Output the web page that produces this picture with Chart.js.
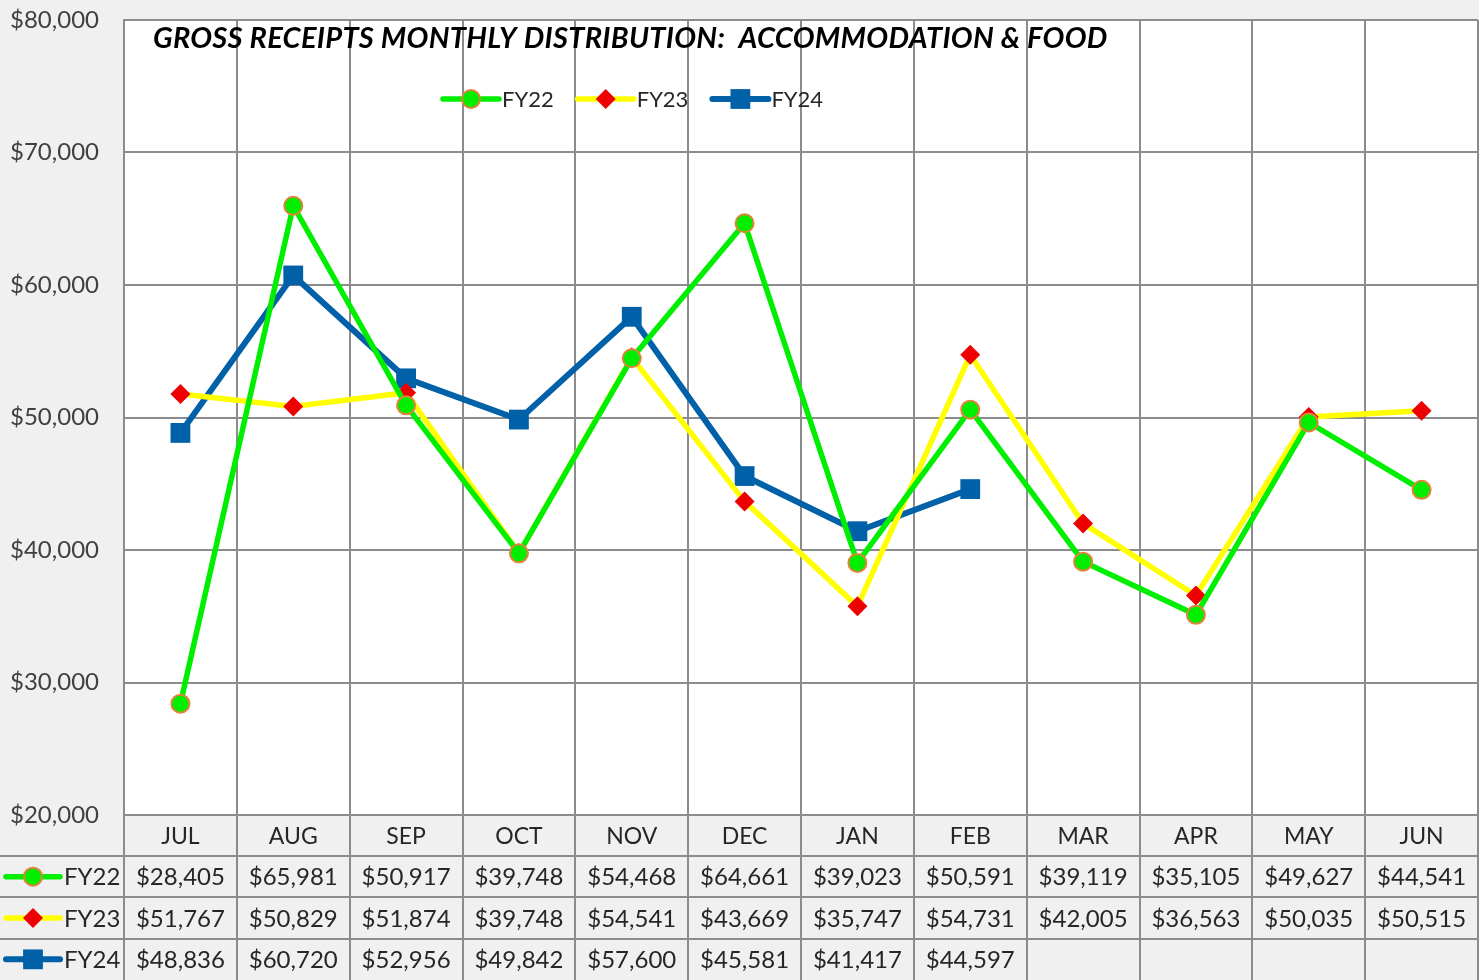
<!DOCTYPE html>
<html>
<head>
<meta charset="utf-8">
<script src="https://cdn.jsdelivr.net/npm/chart.js@4/dist/chart.umd.min.js"></script>
<style>
  body { margin: 0; background: #f0f0f0; }
  canvas { display: block; }
</style>
</head>
<body>
<canvas id="grChart" width="1479" height="980"></canvas>
<script>
const months = ['JUL', 'AUG', 'SEP', 'OCT', 'NOV', 'DEC', 'JAN', 'FEB', 'MAR', 'APR', 'MAY', 'JUN'];
const fy22 = [28405, 65981, 50917, 39748, 54468, 64661, 39023, 50591, 39119, 35105, 49627, 44541];
const fy23 = [51767, 50829, 51874, 39748, 54541, 43669, 35747, 54731, 42005, 36563, 50035, 50515];
const fy24 = [48836, 60720, 52956, 49842, 57600, 45581, 41417, 44597, null, null, null, null];
const seriesNames = ['FY22', 'FY23', 'FY24'];
const chartTitle = 'GROSS RECEIPTS MONTHLY DISTRIBUTION:  ACCOMMODATION & FOOD';

const gridColor = '#8c8c8c';
const textColor = '#262626';
const font = 'Lato';

function money(v) {
  return '$' + Number(v).toLocaleString('en-US');
}

// draw a marker the same way for the legend and table keys
function drawMarker(ctx, ds, x, y) {
  const r = ds.pointRadius;
  ctx.save();
  ctx.fillStyle = ds.pointBackgroundColor;
  ctx.strokeStyle = ds.pointBorderColor;
  ctx.lineWidth = ds.pointBorderWidth;
  ctx.beginPath();
  if (ds.pointStyle === 'circle') {
    ctx.arc(x, y, r, 0, Math.PI * 2);
  } else if (ds.pointStyle === 'rectRot') {
    ctx.moveTo(x, y - r); ctx.lineTo(x + r, y); ctx.lineTo(x, y + r); ctx.lineTo(x - r, y);
    ctx.closePath();
  } else {
    const s = Math.SQRT1_2 * r;
    ctx.rect(x - s, y - s, 2 * s, 2 * s);
  }
  ctx.fill();
  if (ds.pointBorderWidth) ctx.stroke();
  ctx.restore();
}

function drawKey(ctx, ds, x, y, len) {
  ctx.save();
  ctx.strokeStyle = ds.borderColor;
  ctx.lineWidth = ds.borderWidth;
  ctx.lineCap = 'round';
  ctx.beginPath();
  ctx.moveTo(x, y);
  ctx.lineTo(x + len, y);
  ctx.stroke();
  ctx.restore();
  drawMarker(ctx, ds, x + len / 2, y);
}

const tablePlugin = {
  id: 'tablePlugin',
  beforeDraw(chart) {
    const {ctx, chartArea: a} = chart;
    ctx.save();
    ctx.fillStyle = '#ffffff';
    ctx.fillRect(a.left, a.top, a.right - a.left, a.bottom - a.top);
    ctx.restore();
  },
  afterDraw(chart) {
    const {ctx, chartArea: a} = chart;
    const x = chart.scales.x;
    const sets = chart.data.datasets;
    const colW = x.width / months.length;
    const rowTop = x.bottom;
    const rowH = (chart.height - rowTop) / sets.length;

    ctx.save();
    // table grid
    ctx.strokeStyle = gridColor;
    ctx.lineWidth = 2;
    ctx.beginPath();
    for (let i = 0; i <= months.length; i++) {
      const px = Math.round(x.left + i * colW);
      ctx.moveTo(px, a.bottom);
      ctx.lineTo(px, chart.height);
    }
    for (let r = 0; r < sets.length; r++) {
      const py = Math.round(rowTop + r * rowH);
      ctx.moveTo(0, py);
      ctx.lineTo(x.right, py);
    }
    ctx.stroke();

    // table rows
    ctx.font = '24px ' + font;
    ctx.fillStyle = textColor;
    ctx.textBaseline = 'middle';
    sets.forEach((ds, r) => {
      const cy = rowTop + r * rowH + rowH / 2;
      drawKey(ctx, ds, 6, cy, 54);
      ctx.fillStyle = textColor;
      ctx.textAlign = 'left';
      ctx.fillText(ds.label, 64, cy + 1);
      ctx.textAlign = 'center';
      ds.data.forEach((v, i) => {
        if (v === null) return;
        ctx.fillText(money(v), x.getPixelForValue(i), cy + 1);
      });
    });

    // title
    ctx.font = 'italic bold 29px ' + font;
    ctx.letterSpacing = '0.3px';
    ctx.fillStyle = '#000000';
    ctx.textAlign = 'left';
    ctx.fillText(chartTitle, 153, 39);
    ctx.letterSpacing = '0px';

    // legend
    ctx.font = '22px ' + font;
    let lx = 443;
    const ly = 99;
    sets.forEach(ds => {
      drawKey(ctx, ds, lx, ly, 56);
      ctx.fillStyle = textColor;
      ctx.textAlign = 'left';
      ctx.fillText(ds.label, lx + 59, ly + 1);
      lx += 59 + ctx.measureText(ds.label).width + 24;
    });
    ctx.restore();
  }
};

const ctx = document.getElementById('grChart').getContext('2d');
const grChart = new Chart(ctx, {
  type: 'line',
  data: {
    labels: months,
    datasets: [
      {
        label: seriesNames[0],
        data: fy22,
        borderColor: '#00ee00',
        borderWidth: 5.5,
        pointStyle: 'circle',
        pointRadius: 9,
        pointBackgroundColor: '#00ee00',
        pointBorderColor: '#e0843c',
        pointBorderWidth: 2
      },
      {
        label: seriesNames[1],
        data: fy23,
        borderColor: '#ffff00',
        borderWidth: 5.5,
        pointStyle: 'rectRot',
        pointRadius: 10,
        pointBackgroundColor: '#ee0000',
        pointBorderColor: '#ee0000',
        pointBorderWidth: 0
      },
      {
        label: seriesNames[2],
        data: fy24,
        borderColor: '#0060a8',
        borderWidth: 6,
        pointStyle: 'rect',
        pointRadius: 14,
        pointBackgroundColor: '#0060a8',
        pointBorderColor: '#0060a8',
        pointBorderWidth: 0
      }
    ]
  },
  options: {
    responsive: false,
    animation: false,
    layout: {
      autoPadding: false,
      padding: { top: 20, left: 10, right: 1, bottom: 124 }
    },
    scales: {
      x: {
        offset: true,
        grid: {
          offset: true,
          color: gridColor,
          lineWidth: 2,
          drawTicks: false
        },
        border: { display: true, color: gridColor, width: 2 },
        ticks: {
          color: textColor,
          font: { family: font, size: 23 },
          padding: 8,
          maxRotation: 0
        },
        afterFit(scale) { scale.height = 41; }
      },
      y: {
        min: 20000,
        max: 80000,
        grid: {
          color: gridColor,
          lineWidth: 2,
          drawTicks: false
        },
        border: { display: true, color: gridColor, width: 2 },
        ticks: {
          stepSize: 10000,
          crossAlign: 'far',
          color: '#404040',
          font: { family: font, size: 24 },
          callback: v => money(v)
        },
        afterFit(scale) { scale.width = 114; }
      }
    },
    plugins: {
      legend: { display: false },
      tooltip: { enabled: false }
    }
  },
  plugins: [tablePlugin]
});
</script>
</body>
</html>
